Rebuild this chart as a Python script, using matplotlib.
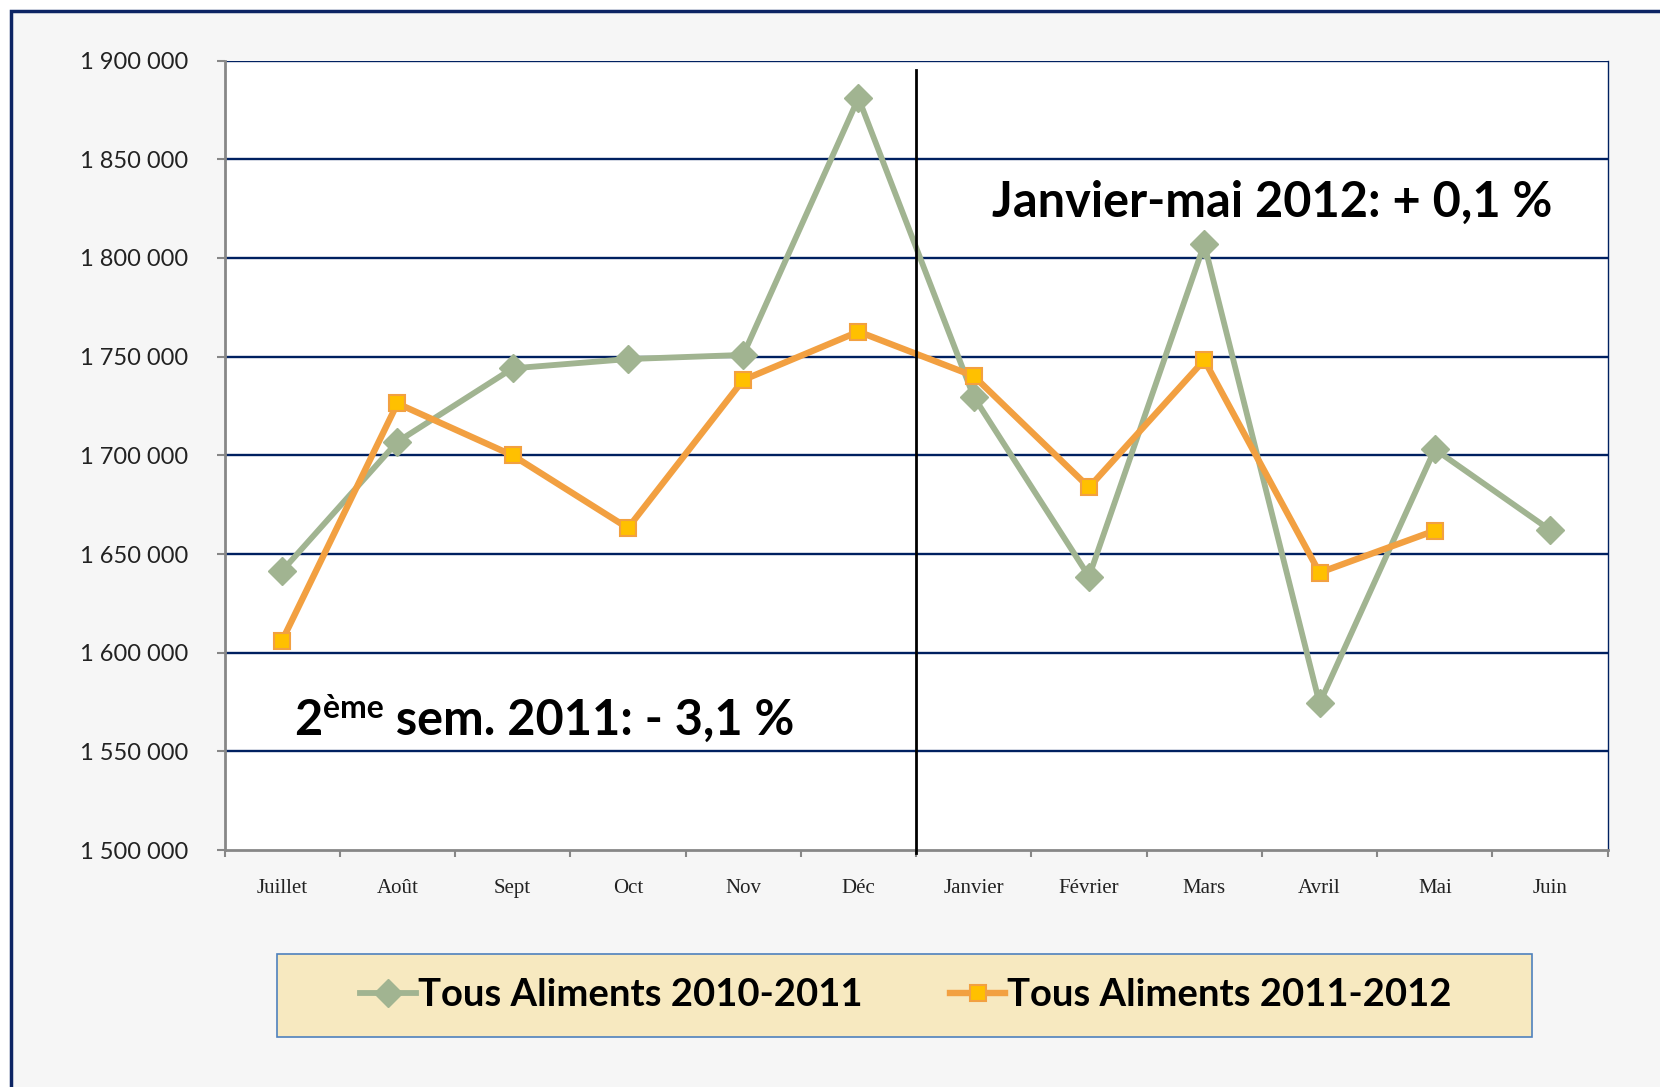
import numpy as np
import matplotlib
matplotlib.use("Agg")
import matplotlib.pyplot as plt
from matplotlib.patches import Rectangle

# ---- données ----
mois = ["Juillet", "Août", "Sept", "Oct", "Nov", "Déc",
        "Janvier", "Février", "Mars", "Avril", "Mai", "Juin"]
aliments_2010_2011 = [1641500, 1706900, 1744100, 1748800, 1750900, 1881000,
                      1729700, 1638600, 1807000, 1574400, 1703100, 1662200]
aliments_2011_2012 = [1606200, 1726300, 1700000, 1663200, 1738200, 1762700,
                      1740200, 1683800, 1748300, 1640600, 1661900]
y_ticks = list(range(1500000, 1900001, 50000))
label_s2 = " sem. 2011: - 3,1 %"
label_jm = "Janvier-mai 2012: + 0,1 %"

vert = "#a1b491"
orange = "#f2a041"
jaune = "#ffc000"
marine = "#002060"
gris = "#878787"

W, H = 1660, 1087
fig = plt.figure(figsize=(W / 100, H / 100), dpi=100, facecolor="white")

# cadre extérieur
top = 1 - 10.5 / H
fig.patches.append(Rectangle((10.5 / W, -0.5), 2, top + 0.5, transform=fig.transFigure,
                             facecolor="#f6f6f6", edgecolor="#0c2463",
                             lw=2.5, zorder=-2))

ax = fig.add_axes([224.5 / W, 1 - 850.2 / H, (1607.7 - 224.5) / W, (850.2 - 60.6) / H])
ax.set_facecolor("white")

x = np.arange(len(mois))
ax.plot(x, aliments_2010_2011, color=vert, lw=4.2, marker="D", ms=14,
        mfc=vert, mec=vert, zorder=3, label="Tous Aliments 2010-2011")
ax.plot(x[:len(aliments_2011_2012)], aliments_2011_2012, color=orange, lw=4.6,
        marker="s", ms=11, mfc=jaune, mec=orange, mew=1.5, zorder=4,
        label="Tous Aliments 2011-2012")

ax.set_xlim(-0.5, len(mois) - 0.5)
ax.set_ylim(y_ticks[0], y_ticks[-1])

# séparation semestre
ax.plot([5.5, 5.5], [1498500, 1895200], color="black", lw=2, zorder=5, clip_on=False)

# grille
for v in y_ticks[1:]:
    ax.axhline(v, color=marine, lw=1.7, zorder=1)

ax.set_yticks(y_ticks)
ax.set_yticklabels([f"{v:,}".replace(",", " ") for v in y_ticks],
                   fontfamily="Lato", fontsize=17, color="#222222")
ax.tick_params(axis="y", length=6, width=1.5, color=gris, pad=20)

ax.set_xticks(np.arange(-0.5, len(mois), 1))
ax.set_xticklabels([])
ax.set_xticks(x, minor=True)
ax.set_xticklabels(mois, minor=True, fontfamily="Liberation Serif", fontsize=15,
                   color="#222222")
ax.tick_params(axis="x", which="major", length=5, width=1.5, color=gris)
ax.tick_params(axis="x", which="minor", length=0, pad=21)

for s in ["left", "bottom"]:
    ax.spines[s].set_color(gris)
    ax.spines[s].set_linewidth(2)
ax.spines["right"].set_color(marine)
ax.spines["right"].set_linewidth(1)
ax.spines["top"].set_visible(False)

# annotations
t1 = ax.text(0.10, 1558400, "2", fontfamily="Lato", fontweight="bold",
             fontsize=35, ha="left", va="baseline", zorder=6)
t2 = ax.annotate("ème", xy=(1, 0), xycoords=t1, xytext=(1, 14),
                 textcoords="offset points", fontfamily="Lato", fontweight="bold",
                 fontsize=23, ha="left", va="bottom", zorder=6)
ax.annotate(label_s2, xy=(1, 0), xycoords=(t2, t1), fontfamily="Lato",
            fontweight="bold", fontsize=35, ha="left", va="bottom", zorder=6)
ax.text(6.16, 1820800, label_jm, fontfamily="Lato", fontweight="bold",
        fontsize=35, ha="left", va="baseline", zorder=6)

# légende
fig.patches.append(Rectangle((276.8 / W, 1 - 1037 / H), (1532 - 276.8) / W, 83 / H,
                             transform=fig.transFigure, facecolor="#f7e9c0",
                             edgecolor="#4f81bd", lw=1.2, zorder=1))
handles, labels = ax.get_legend_handles_labels()
leg = fig.legend(handles, labels, loc="center", bbox_to_anchor=(906 / W, 1 - 995 / H),
                 ncol=2, frameon=False, handlelength=1.45, handletextpad=0.05,
                 columnspacing=2.3, prop={"family": "Lato", "weight": "bold", "size": 27.5})
leg.set_zorder(3)

fig.savefig("out.png", dpi=100, facecolor=fig.get_facecolor())
